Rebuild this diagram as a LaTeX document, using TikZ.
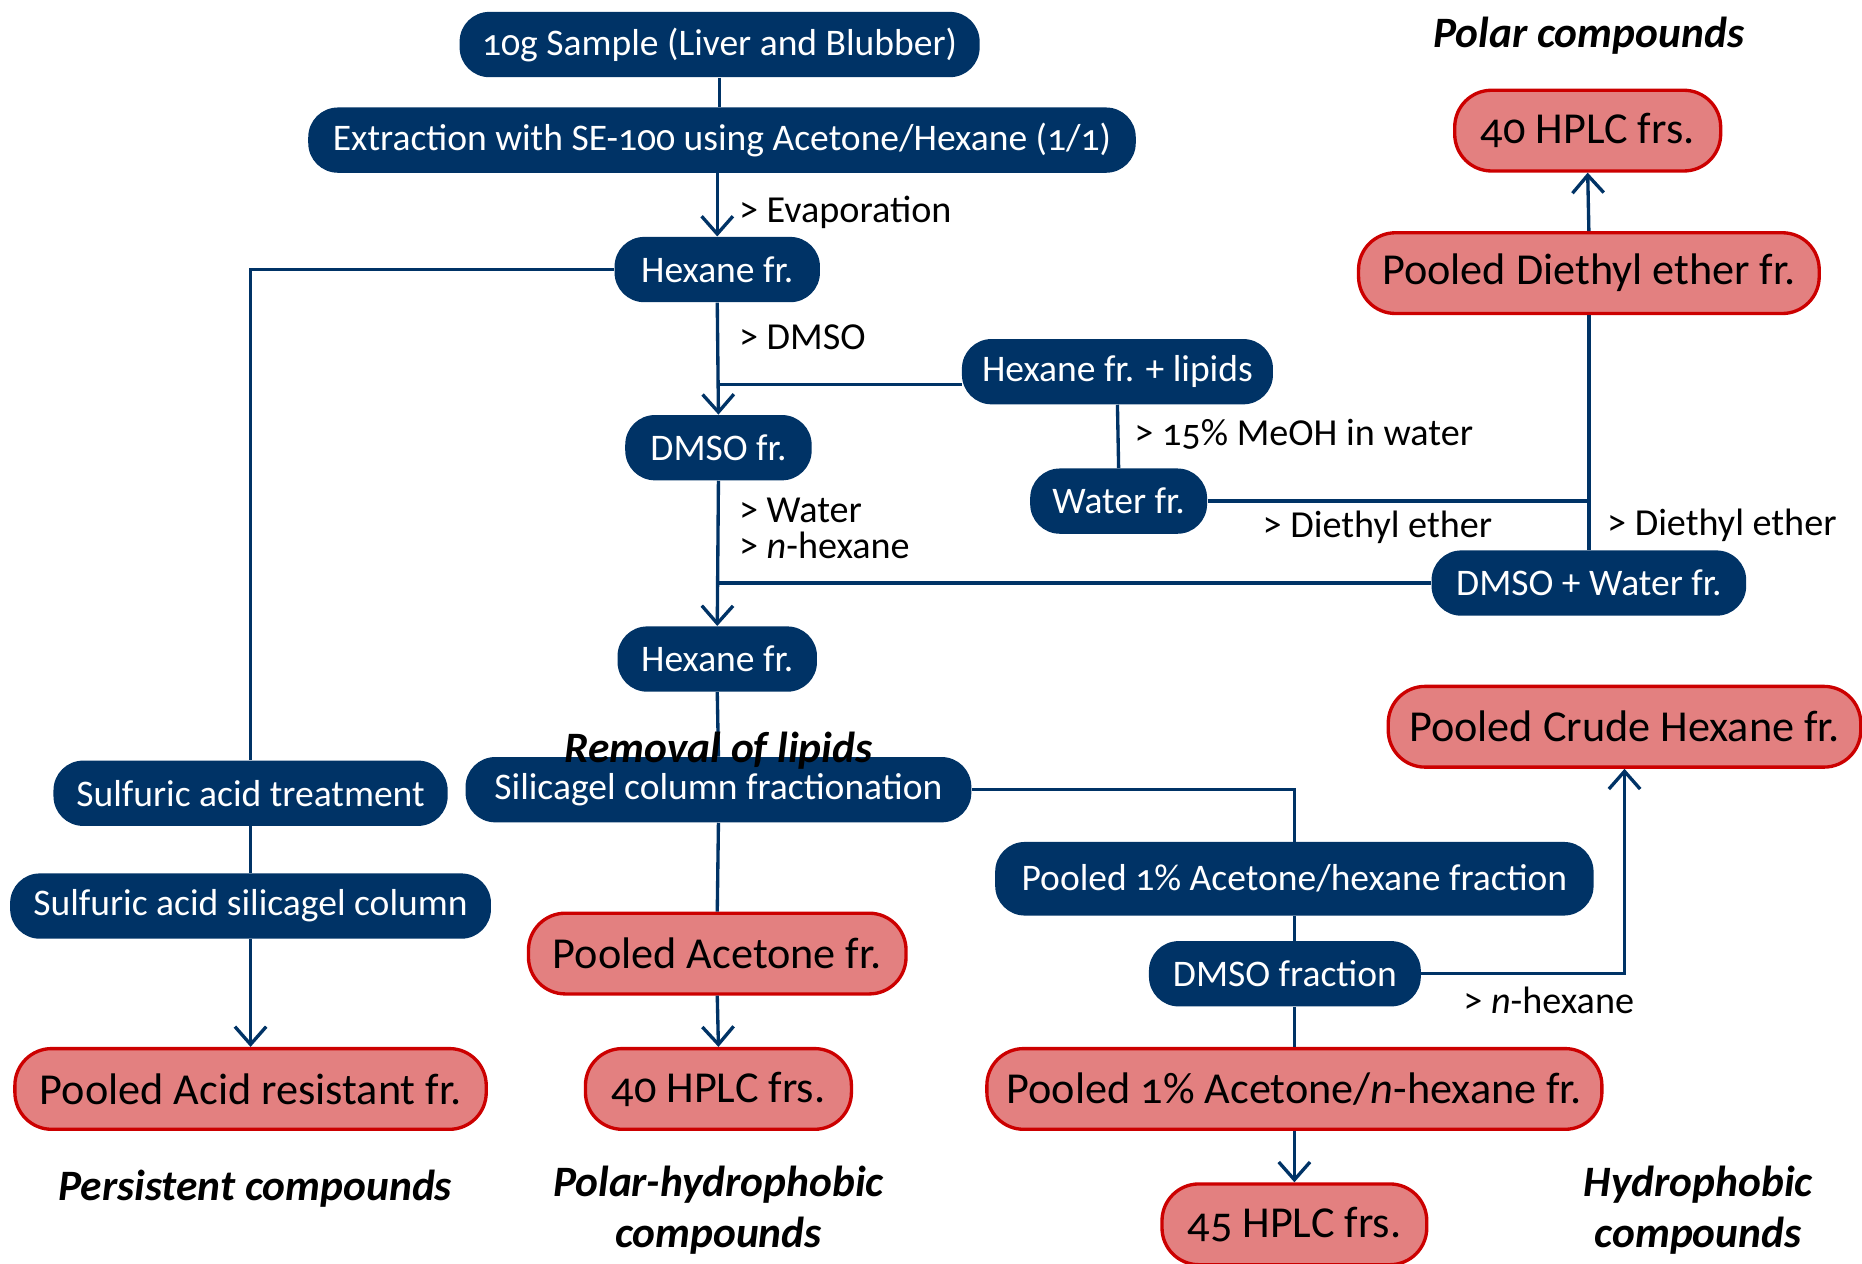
\documentclass[tikz,border=0pt]{standalone}
\usepackage{fontspec}
\setmainfont{Carlito}[Numbers=OldStyle]
\usetikzlibrary{arrows.meta}
\definecolor{navy}{RGB}{0,51,102}
\definecolor{pinkfill}{RGB}{227,128,128}
\definecolor{redline}{RGB}{204,0,0}
\begin{document}
\begin{tikzpicture}[x=0.02cm,y=-0.02cm,
  dbox/.style={draw=none, fill=navy, text=white, rounded corners=0.5cm, minimum height=1.1cm, font=\fontsize{18}{21}\selectfont, inner sep=0pt},
  rbox/.style={fill=pinkfill, draw=redline, line width=1.6pt, text=black, rounded corners=0.62cm, minimum height=1.36cm, font=\fontsize{21.2}{25}\selectfont, inner sep=0pt},
  conn/.style={draw=navy, line width=1.6pt},
  arr/.style={conn, -{Straight Barb[length=8.5pt,width=15pt,line width=1.6pt]}},
  lbl/.style={anchor=west, font=\fontsize{18.3}{17}\selectfont, inner sep=0pt, align=left},
  ttl/.style={font=\fontsize{20.8}{24.5}\selectfont\bfseries\itshape, align=center, inner sep=0pt}
]
\useasboundingbox (0,0) rectangle (1568,1064);
% dark nodes
\node[dbox, minimum width=8.76cm] (sample) at (606,37.5) {10g Sample (Liver and Blubber)};
\node[dbox, minimum width=13.94cm] (extract) at (608,118) {Extraction with SE-100 using Acetone/Hexane (1/1)};
\node[dbox, minimum width=3.46cm] (hex1) at (604,227) {Hexane fr.};
\node[dbox, minimum width=5.24cm] (hexlip) at (941,313) {Hexane fr. + lipids};
\node[dbox, minimum width=3.14cm] (dmso) at (605,377) {DMSO fr.};
\node[dbox, minimum width=2.98cm] (water) at (942,422) {Water fr.};
\node[dbox, minimum width=5.3cm] (dmsowater) at (1338,491) {DMSO + Water fr.};
\node[dbox, minimum width=3.36cm] (hex2) at (604,555) {Hexane fr.};
\node[dbox, minimum width=6.64cm] (sulf) at (211,668) {Sulfuric acid treatment};
\node[dbox, minimum width=8.52cm] (silica) at (605,665) {Silicagel column fractionation};
\node[dbox, minimum width=8.1cm] (sulfcol) at (211,763) {Sulfuric acid silicagel column};
\node[dbox, minimum width=10.08cm, minimum height=1.24cm] (pooledAH) at (1090,740) {Pooled 1\% Acetone/hexane fraction};
\node[dbox, minimum width=4.58cm] (dmsofrac) at (1082,820) {DMSO fraction};
% red nodes
\node[rbox, minimum width=4.48cm] (hplc1) at (1337,110) {40 HPLC frs.};
\node[rbox, minimum width=7.76cm] (diethyl) at (1338,230) {Pooled Diethyl ether fr.};
\node[rbox, minimum width=7.96cm] (crude) at (1368,612) {Pooled Crude Hexane fr.};
\node[rbox, minimum width=6.36cm] (acetone) at (604,803) {Pooled Acetone fr.};
\node[rbox, minimum width=7.94cm] (acid) at (211,917) {Pooled Acid resistant fr.};
\node[rbox, minimum width=4.48cm] (hplc2) at (605,917) {40 HPLC frs.};
\node[rbox, minimum width=10.36cm] (nhex) at (1090,917) {Pooled 1\% Acetone/\textit{n}-hexane fr.};
\node[rbox, minimum width=4.46cm] (hplc3) at (1090,1031) {45 HPLC frs.};
% connectors
\draw[conn] (sample.south) -- (sample.south |- extract.north);
\draw[arr] (hex1.north |- extract.south) -- (hex1.north);
\draw[conn] (hex1.west) -| (sulf.north);
\draw[arr] (hex1.south) -- (dmso.north);
\coordinate (lipin) at ([yshift=-0.22cm]hexlip.west);
\draw[conn] (lipin) -- (lipin -| hex1.south);
\draw[conn] (hexlip.south) -- (water.north);
\draw[conn] (water.east) -- (water.east -| diethyl.south);
\draw[conn] (dmsowater.north) -- (diethyl.south);
\draw[arr] (diethyl.north) -- (hplc1.south);
\draw[arr] (dmso.south) -- (hex2.north);
\draw[conn] (dmsowater.west) -- (dmsowater.west -| dmso.south);
\draw[conn] (hex2.south) -- (silica.north);
\draw[conn] (silica.east) -| (pooledAH.north);
\draw[conn] (pooledAH.south) -- (pooledAH.south |- dmsofrac.north);
\draw[conn] (pooledAH.south |- dmsofrac.south) -- (nhex.north);
\draw[arr] (dmsofrac.east) -| (crude.south);
\draw[conn] (silica.south) -- (acetone.north);
\draw[arr] (acetone.south) -- (hplc2.north);
\draw[conn] (sulf.south) -- (sulfcol.north);
\draw[arr] (sulfcol.south) -- (acid.north);
\draw[arr] (nhex.south) -- (hplc3.north);
% labels
\node[lbl] (l1) at (622,179) {> Evaporation};
\node[lbl] (l2) at (622,284) {> DMSO};
\node[lbl] (l3) at (955,366) {> 15\% MeOH in water};
\node[lbl] (l4) at (622,445) {> Water\\> \textit{n}-hexane};
\node[lbl] (l5) at (1063,444) {> Diethyl ether};
\node[lbl] (l6) at (1353,442) {> Diethyl ether};
\node[lbl] (l7) at (1232,842) {> \textit{n}-hexane};
% titles
\node[ttl] (t1) at (1338,30) {Polar compounds};
\node[ttl] (t2) at (605,632) {Removal of lipids};
\node[ttl] (t3) at (215,1001) {Persistent compounds};
\node[ttl] (t4) at (605,1019) {Polar-hydrophobic\\compounds};
\node[ttl] (t5) at (1430,1019) {Hydrophobic\\compounds};
\end{tikzpicture}
\end{document}
